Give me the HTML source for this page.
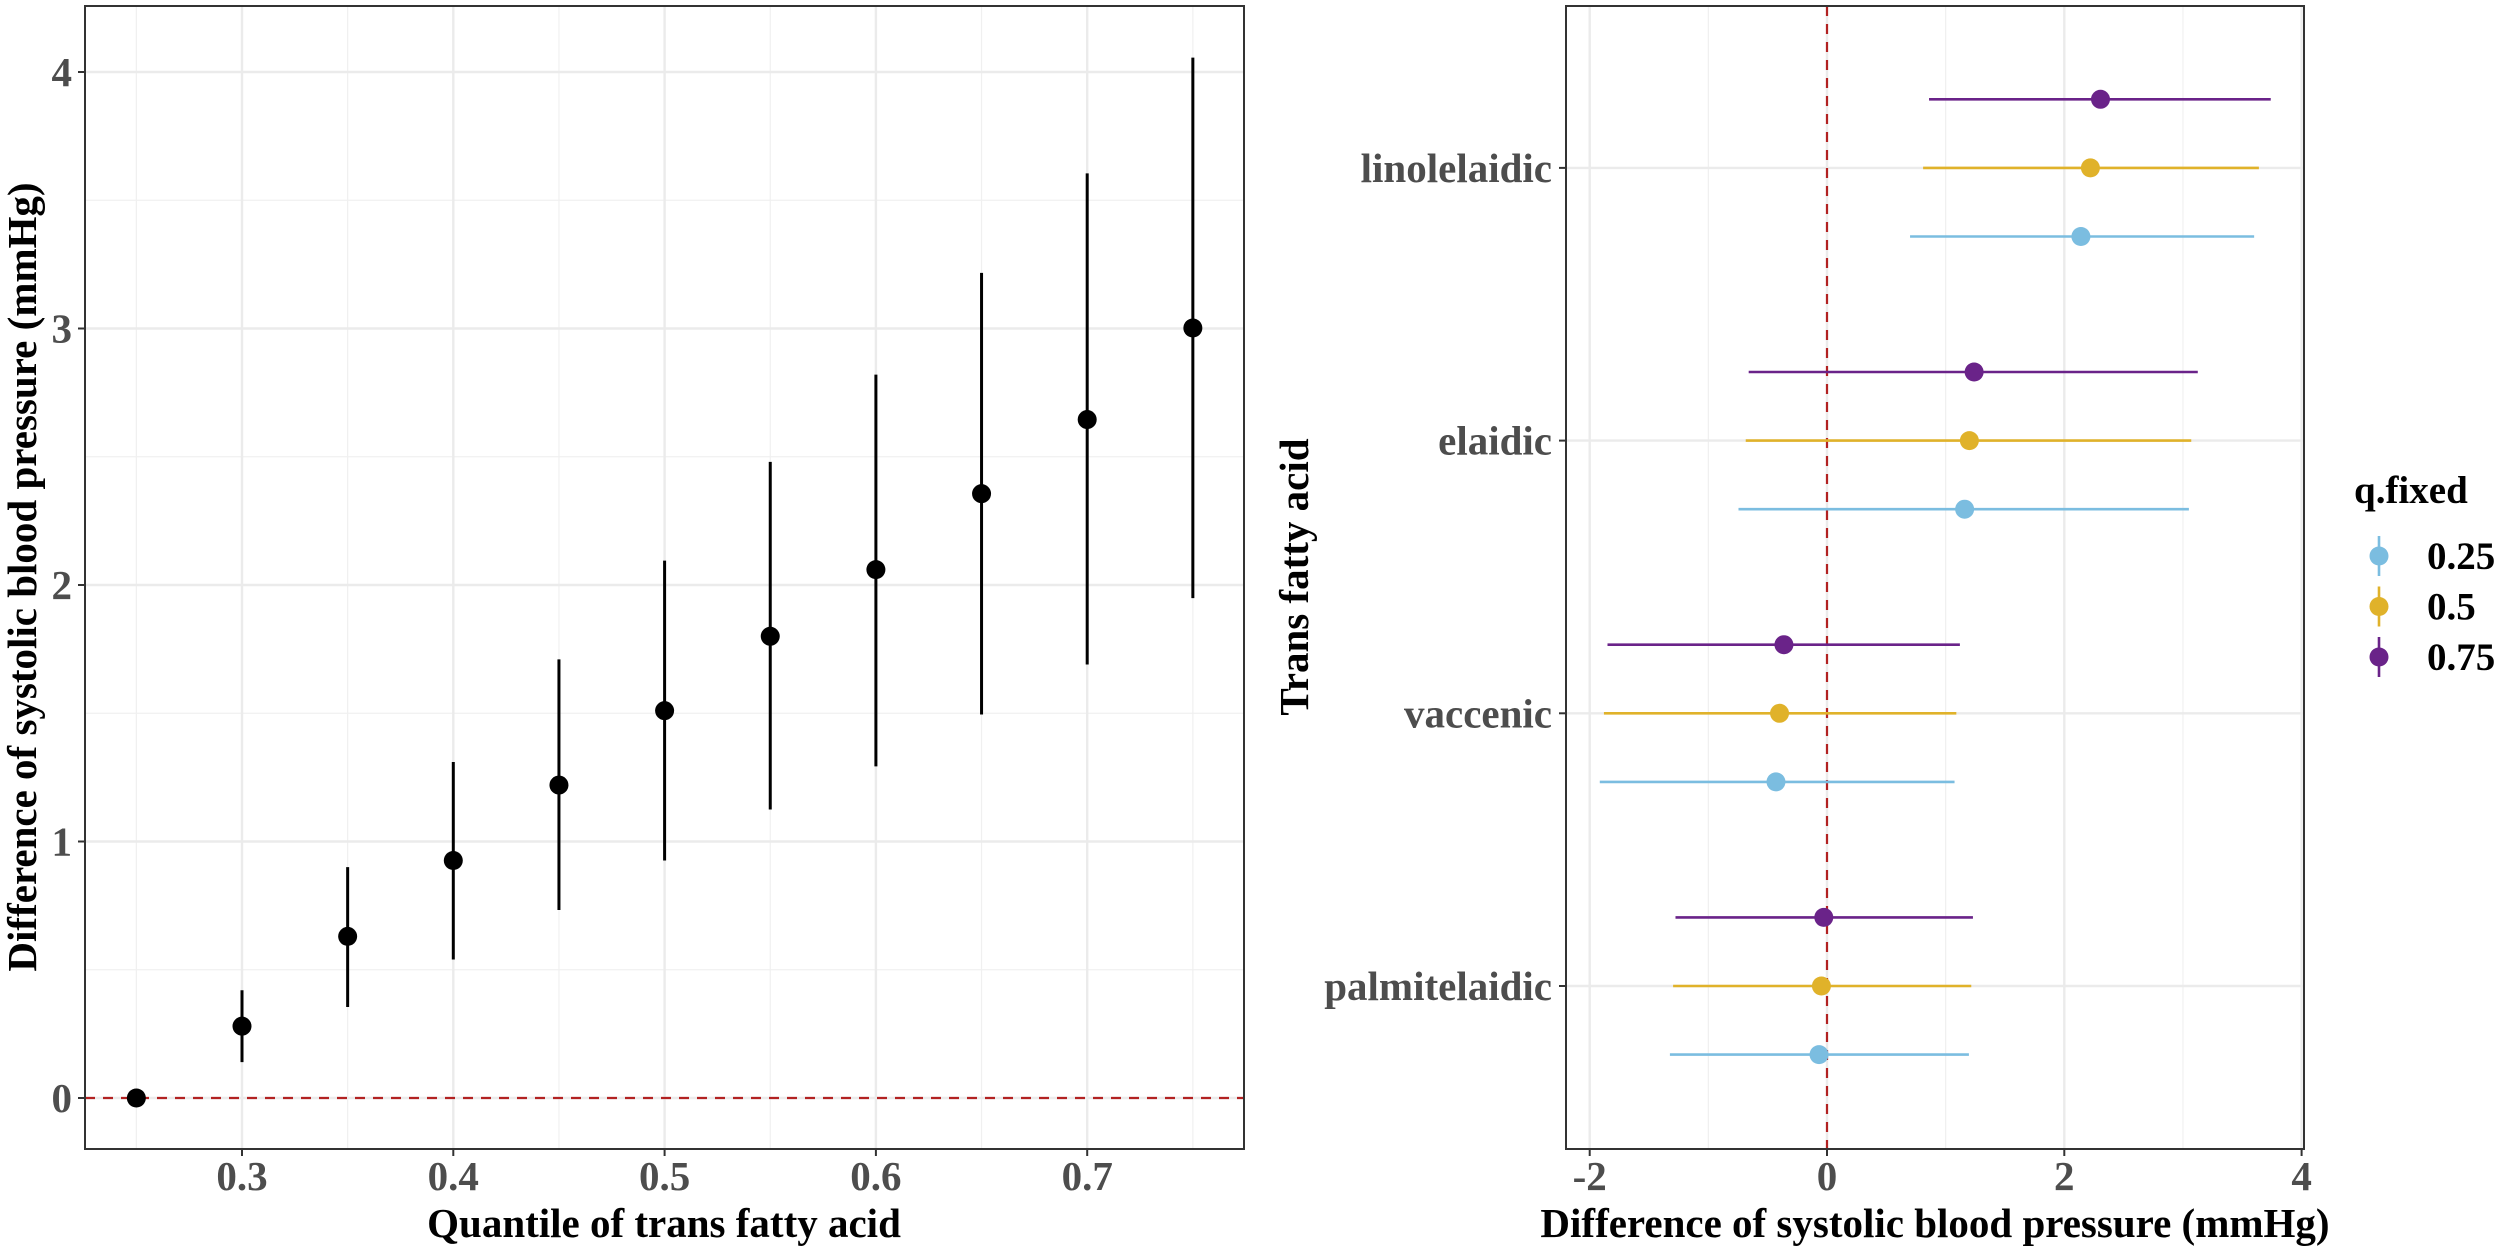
<!DOCTYPE html>
<html><head><meta charset="utf-8"><style>
html,body{margin:0;padding:0;background:#fff;}
svg{display:block;font-family:"Liberation Serif",serif;font-weight:bold;}
</style></head><body>
<svg id="chart" width="2500" height="1250" viewBox="0 0 2500 1250" xmlns="http://www.w3.org/2000/svg">
<g id="left"></g>
<g id="right"></g>
</svg>
<script>
// Left chart data
const quantiles = [0.25,0.3,0.35,0.4,0.45,0.5,0.55,0.6,0.65,0.7,0.75];
const leftEst = [0,0.28,0.63,0.926,1.22,1.51,1.80,2.06,2.356,2.645,3.002];
const leftLo = [0,0.14,0.355,0.54,0.733,0.926,1.125,1.293,1.495,1.69,1.949];
const leftHi = [0,0.42,0.90,1.31,1.71,2.095,2.48,2.82,3.217,3.605,4.056];
const leftXTicks = [0.3,0.4,0.5,0.6,0.7];
const leftXMinor = [0.25,0.35,0.45,0.55,0.65,0.75];
const leftYTicks = [0,1,2,3,4];
// Right chart data
const acids = ["palmitelaidic","vaccenic","elaidic","linolelaidic"];
const qLevels = ["0.25","0.5","0.75"];
const est25 = [-0.067,-0.43,1.16,2.14];
const lo25 = [-1.324,-1.915,-0.746,0.70];
const hi25 = [1.196,1.075,3.05,3.60];
const est50 = [-0.047,-0.40,1.20,2.22];
const lo50 = [-1.297,-1.88,-0.685,0.81];
const hi50 = [1.216,1.09,3.07,3.64];
const est75 = [-0.027,-0.363,1.24,2.305];
const lo75 = [-1.277,-1.85,-0.66,0.86];
const hi75 = [1.23,1.12,3.125,3.74];
const rightXTicks = [-2,0,2,4];

const NS="http://www.w3.org/2000/svg";
function mk(parent,tag,attrs,text){const e=document.createElementNS(NS,tag);for(const k in attrs)e.setAttribute(k,attrs[k]);if(text!==undefined)e.textContent=text;parent.appendChild(e);return e;}
const FS=41;

// ---- LEFT ----
const L=document.getElementById('left');
const lx0=85,lx1=1244,ly0=6,ly1=1149;
const lxs=v=>242+(v-0.3)*2113;
const lys=v=>1098-v*256.5;
leftXMinor.forEach(v=>{const e=mk(L,'line',{x1:lxs(v),x2:lxs(v),y1:ly0,y2:ly1,stroke:'#f0f0f0','stroke-width':1.2});});
[0.5,1.5,2.5,3.5].forEach(v=>{const e=mk(L,'line',{x1:lx0,x2:lx1,y1:lys(v),y2:lys(v),stroke:'#f0f0f0','stroke-width':1.2});});
leftXTicks.forEach(v=>{const e=mk(L,'line',{x1:lxs(v),x2:lxs(v),y1:ly0,y2:ly1,stroke:'#ebebeb','stroke-width':2.4});});
leftYTicks.forEach(v=>{const e=mk(L,'line',{x1:lx0,x2:lx1,y1:lys(v),y2:lys(v),stroke:'#ebebeb','stroke-width':2.4});});
{const e=mk(L,'line',{x1:lx0,x2:lx1,y1:lys(0),y2:lys(0),stroke:'#b22222','stroke-width':2.2,'stroke-dasharray':'10,8'});}
quantiles.forEach((q,i)=>{
  const l=mk(L,'line',{x1:lxs(q),x2:lxs(q),y1:lys(leftLo[i]),y2:lys(leftHi[i]),stroke:'#000','stroke-width':3});
  
  const c=mk(L,'circle',{cx:lxs(q),cy:lys(leftEst[i]),r:9.5,fill:'#000'});
  
});
{const e=mk(L,'rect',{x:lx0,y:ly0,width:lx1-lx0,height:ly1-ly0,fill:'none',stroke:'#333','stroke-width':2});}
leftXTicks.forEach(v=>{
  const t=mk(L,'line',{x1:lxs(v),x2:lxs(v),y1:ly1,y2:ly1+7,stroke:'#333','stroke-width':2});
  const e=mk(L,'text',{x:lxs(v),y:1190,'text-anchor':'middle','font-size':FS,fill:'#4d4d4d'},v.toFixed(1));
});
leftYTicks.forEach(v=>{
  const t=mk(L,'line',{x1:lx0-7,x2:lx0,y1:lys(v),y2:lys(v),stroke:'#333','stroke-width':2});
  const e=mk(L,'text',{x:72,y:lys(v)+14,'text-anchor':'end','font-size':FS,fill:'#4d4d4d'},String(v));
});
{const e=mk(L,'text',{x:664,y:1237,'text-anchor':'middle','font-size':FS,fill:'#000'},'Quantile of trans fatty acid');}
{const e=mk(L,'text',{x:0,y:0,'text-anchor':'middle','font-size':FS,fill:'#000',transform:'translate(36,577) rotate(-90)'},'Difference of systolic blood pressure (mmHg)');}

// ---- RIGHT ----
const R=document.getElementById('right');
const rx0=1566,rx1=2304,ry0=6,ry1=1149;
const rxs=v=>1827+v*118.65;
const rys=i=>986-i*272.7;
const dodge=68.6;
const colors=['#7bbde0','#e0b22a','#6a2389'];
const ests=[est25,est50,est75],los=[lo25,lo50,lo75],his=[hi25,hi50,hi75];
[-1,1,3].forEach(v=>{const e=mk(R,'line',{x1:rxs(v),x2:rxs(v),y1:ry0,y2:ry1,stroke:'#f0f0f0','stroke-width':1.2});});
rightXTicks.forEach(v=>{const e=mk(R,'line',{x1:rxs(v),x2:rxs(v),y1:ry0,y2:ry1,stroke:'#ebebeb','stroke-width':2.4});});
acids.forEach((a,i)=>{const e=mk(R,'line',{x1:rx0,x2:rx1,y1:rys(i),y2:rys(i),stroke:'#ebebeb','stroke-width':2.4});});
{const e=mk(R,'line',{x1:rxs(0),x2:rxs(0),y1:ry0,y2:ry1,stroke:'#b22222','stroke-width':2.2,'stroke-dasharray':'10,8'});}
acids.forEach((a,i)=>{
  qLevels.forEach((q,k)=>{
    const y=rys(i)+(1-k)*dodge;
    const l=mk(R,'line',{x1:rxs(los[k][i]),x2:rxs(his[k][i]),y1:y,y2:y,stroke:colors[k],'stroke-width':2.6});
    
    const c=mk(R,'circle',{cx:rxs(ests[k][i]),cy:y,r:9.5,fill:colors[k]});
    
  });
});
{const e=mk(R,'rect',{x:rx0,y:ry0,width:rx1-rx0,height:ry1-ry0,fill:'none',stroke:'#333','stroke-width':2});}
rightXTicks.forEach(v=>{
  const t=mk(R,'line',{x1:rxs(v),x2:rxs(v),y1:ry1,y2:ry1+7,stroke:'#333','stroke-width':2});
  const e=mk(R,'text',{x:rxs(v),y:1190,'text-anchor':'middle','font-size':FS,fill:'#4d4d4d'},v<0?'-'+Math.abs(v):String(v));
});
acids.forEach((a,i)=>{
  const t=mk(R,'line',{x1:rx0-7,x2:rx0,y1:rys(i),y2:rys(i),stroke:'#333','stroke-width':2});
  const e=mk(R,'text',{x:1552,y:rys(i)+14,'text-anchor':'end','font-size':FS,fill:'#4d4d4d'},a);
});
{const e=mk(R,'text',{x:1935,y:1237,'text-anchor':'middle','font-size':FS,fill:'#000'},'Difference of systolic blood pressure (mmHg)');}
{const e=mk(R,'text',{x:0,y:0,'text-anchor':'middle','font-size':FS,fill:'#000',transform:'translate(1308,577) rotate(-90)'},'Trans fatty acid');}

// legend
const LG=mk(R,'g',{});


{const e=mk(LG,'text',{x:2354,y:503,'font-size':39,fill:'#000'},'q.fixed');}
qLevels.forEach((q,k)=>{
  const y=556+k*50.5;
  const g=mk(LG,'g',{});
  
  
  mk(g,'line',{x1:2379,x2:2379,y1:y-20,y2:y+20,stroke:colors[k],'stroke-width':2.6});
  mk(g,'circle',{cx:2379,cy:y,r:9.5,fill:colors[k]});
  const t=mk(g,'text',{x:2427,y:y+13,'font-size':39,fill:'#000'},q);
  
  
});
</script>
</body></html>
